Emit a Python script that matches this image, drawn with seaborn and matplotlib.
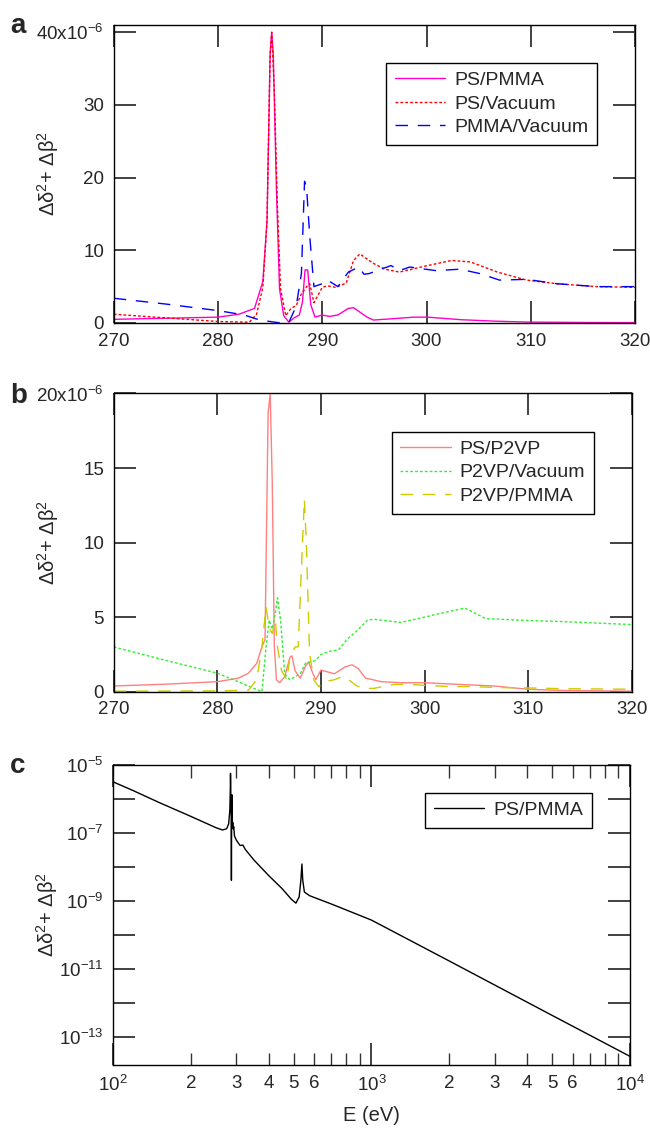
import numpy as np
import pandas as pd
import matplotlib
matplotlib.use("Agg")
import matplotlib.pyplot as plt
import seaborn as sns

# ---------------- data ----------------
# Panel a
a_ps_pmma_E = [270, 275, 280, 282, 283.5, 284.3, 284.7, 285.0, 285.15, 285.3, 285.6, 285.9, 286.3,
               286.8, 287.3, 287.8, 288.1, 288.35, 288.6, 288.9, 289.3, 290.0, 290.7, 291.5, 292.5,
               293.0, 293.7, 294.3, 294.9, 296.9, 298.8, 300.1, 303.3, 306.5, 309.7, 315, 320]
a_ps_pmma_v = [0.5, 0.65, 0.8, 1.2, 2.0, 5.7, 14, 37, 40, 37, 18.5, 4.7, 1.0,
               0.1, 0.7, 1.1, 2.9, 7.3, 7.3, 2.5, 0.8, 1.1, 0.9, 1.1, 2.0,
               2.1, 1.4, 0.8, 0.4, 0.6, 0.8, 0.8, 0.45, 0.25, 0.12, 0.07, 0.05]

a_ps_vac_E = [270, 275, 280, 283, 283.7, 284.3, 284.7, 285.0, 285.15, 285.4, 285.7, 286.0, 286.5,
              287.0, 287.5, 288.0, 288.5, 288.8, 289.2, 290.0, 290.5, 291.3, 292.3, 293.0, 293.6,
              294.9, 296.0, 297.4, 299.8, 302.4, 304.2, 306.8, 309.6, 312.5, 316.3, 320]
a_ps_vac_v = [1.2, 0.7, 0.2, 0.1, 1.2, 4.9, 14, 37, 40, 32, 16, 4.7, 1.0,
              2.0, 2.4, 4.0, 5.0, 5.4, 2.8, 4.9, 5.1, 4.9, 5.5, 8.6, 9.5,
              8.2, 7.4, 7.0, 7.8, 8.6, 8.4, 7.0, 5.9, 5.4, 5.0, 4.9]

a_pmma_vac_E = [270, 275, 280, 282.5, 284, 285, 286, 286.8, 287.5, 288.0, 288.3, 288.5, 288.8,
                289.2, 290.0, 290.5, 291.5, 292.5, 293.5, 294.0, 294.5, 296.6, 297.4, 298.4,
                300.9, 303.2, 305.1, 307.0, 309.6, 312.5, 316.3, 320]
a_pmma_vac_v = [3.4, 2.6, 1.7, 1.1, 0.4, 0.2, 0.0, 0.1, 2.3, 6.8, 19.5, 18.5, 11.9,
                5.0, 5.4, 5.9, 5.0, 7.0, 7.7, 6.7, 6.8, 7.9, 7.2, 7.7,
                7.2, 7.4, 6.8, 5.9, 6.0, 5.4, 5.0, 5.0]

# Panel b
b_ps_p2vp_E = [270, 275, 280, 282, 283, 283.8, 284.3, 284.6, 284.9, 285.1, 285.3, 285.5, 285.7,
               286.0, 286.5, 287.0, 287.2, 287.5, 288.0, 288.5, 288.8, 289.2, 289.5, 290.0,
               290.5, 291.3, 292.3, 293.0, 293.6, 294.3, 295.0, 295.8, 297.7, 300.0, 302.3,
               304.5, 306.7, 310.0, 313.2, 320]
b_ps_p2vp_v = [0.38, 0.5, 0.67, 0.9, 1.24, 1.9, 3.0, 3.5, 18.7, 20, 14, 3.0, 0.8,
               0.6, 1.0, 2.3, 2.4, 1.4, 0.9, 1.7, 2.0, 1.25, 0.8, 1.45,
               1.35, 1.2, 1.65, 1.8, 1.55, 0.9, 0.8, 0.67, 0.6, 0.6, 0.52,
               0.45, 0.38, 0.16, 0.08, 0.03]

b_p2vp_vac_E = [270, 275, 280, 282, 283.5, 284.3, 284.7, 285.0, 285.3, 285.6, 285.8, 286.1,
                286.5, 287.0, 287.5, 288.0, 288.5, 289.0, 289.5, 290.0, 290.8, 291.7, 292.5,
                293.5, 294.5, 295.1, 297.7, 300.0, 302.3, 303.9, 305.9, 310.1, 313.3, 320]
b_p2vp_vac_v = [3.0, 2.1, 1.24, 0.67, 0.22, 0.0, 3.0, 4.8, 4.2, 5.3, 6.3, 4.8,
                1.2, 0.8, 1.0, 1.2, 1.9, 2.0, 2.1, 2.5, 2.7, 2.8, 3.5,
                4.1, 4.8, 4.86, 4.64, 5.0, 5.37, 5.6, 4.9, 4.77, 4.7, 4.5]

b_p2vp_pmma_E = [270, 275, 280, 283, 283.8, 284.3, 284.7, 285.0, 285.3, 285.6, 285.8, 286.2,
                 286.7, 287.0, 287.5, 287.8, 288.2, 288.4, 288.6, 288.9, 289.3, 289.8, 290.3,
                 291.3, 292.0, 292.5, 293.3, 294.0, 295.1, 297.1, 299.4, 302.3, 304.5, 307.4,
                 310.0, 313.2, 320]
b_p2vp_pmma_v = [0.03, 0.04, 0.05, 0.1, 0.8, 3.0, 5.7, 4.3, 3.9, 4.8, 3.0, 1.4,
                 0.8, 2.3, 3.0, 3.0, 9.7, 12.9, 9.7, 2.6, 0.8, 0.33, 0.67,
                 0.8, 1.0, 0.9, 0.45, 0.22, 0.22, 0.49, 0.45, 0.34, 0.34, 0.27,
                 0.25, 0.2, 0.16]

# Panel c
c_E = [100, 120, 150, 200, 250, 265, 275, 280, 283, 284.3, 284.7, 285.2, 285.8, 286.5, 287.0,
       287.5, 288.2, 288.8, 289.5, 290.5, 291.5, 293, 295, 300, 305, 310, 318, 325, 350, 400,
       450, 490, 510, 525, 533, 538, 542, 550, 577, 700, 1000, 2000, 5000, 10000]
c_v = [3.1e-6, 1.7e-6, 7.8e-7, 3.0e-7, 1.4e-7, 1.2e-7, 1.3e-7, 1.8e-7, 4.5e-7, 2.0e-6, 5.5e-6,
       2.5e-6, 5e-7, 3e-7, 4e-9, 1.5e-7, 1.3e-6, 3e-7, 1.5e-7, 2e-7, 1.3e-7, 1.5e-7, 8e-8,
       6e-8, 5e-8, 4.2e-8, 4.3e-8, 3.2e-8, 1.6e-8, 5.5e-9, 2.3e-9, 1.1e-9, 8.5e-10, 1.3e-9,
       4e-9, 1.2e-8, 4e-9, 1.8e-9, 1.4e-9, 8e-10, 2.7e-10, 1.7e-11, 4.3e-13, 2.7e-14]

a_yticks = [0, 10, 20, 30, 40]
a_yticklabels = ["0", "10", "20", "30", "40x10$^{-6}$"]
b_yticks = [0, 5, 10, 15, 20]
b_yticklabels = ["0", "5", "10", "15", "20x10$^{-6}$"]
ab_xticks = [270, 280, 290, 300, 310, 320]
c_xminor_labels = {200: "2", 300: "3", 400: "4", 500: "5", 600: "6",
                   2000: "2", 3000: "3", 4000: "4", 5000: "5", 6000: "6"}
ylabel_text = "\u0394\u03b4$^2$+ \u0394\u03b2$^2$"

# ---------------- style ----------------
sns.set_style("ticks")
plt.rcParams["font.family"] = ["Liberation Sans", "DejaVu Sans"]
plt.rcParams["mathtext.fontset"] = "custom"
plt.rcParams["mathtext.rm"] = "Liberation Sans"
plt.rcParams["mathtext.it"] = "Liberation Sans:italic"
plt.rcParams["mathtext.bf"] = "Liberation Sans:bold"
plt.rcParams["mathtext.default"] = "regular"
plt.rcParams["font.size"] = 13.5
plt.rcParams["axes.linewidth"] = 1.0
plt.rcParams["axes.edgecolor"] = "black"

TICK_FS = 13.5
LEG_FS = 14
LAB_FS = 14.5

fig = plt.figure(figsize=(6.5, 11.32), dpi=100)
ax_a = fig.add_axes([0.175, 0.7147, 0.802, 0.2632])
ax_b = fig.add_axes([0.175, 0.3890, 0.797, 0.2634])
ax_c = fig.add_axes([0.174, 0.0592, 0.795, 0.2654])

def style_ticks(ax):
    ax.tick_params(which="major", direction="in", length=16, width=1.3, color="#333333",
                   top=True, right=True, labelsize=TICK_FS, pad=7)
    ax.tick_params(which="minor", direction="in", length=9, width=1.0, color="#333333",
                   top=True, right=True, labelsize=TICK_FS, pad=7)

def draw(ax, E, v, color, ls, label):
    df = pd.DataFrame({"E": E, "v": v})
    sns.lineplot(data=df, x="E", y="v", ax=ax, color=color, linestyle=ls, lw=1.0,
                 label=label, estimator=None, sort=False)

# Panel a
draw(ax_a, a_ps_pmma_E, a_ps_pmma_v, "#ff00cc", "-", "PS/PMMA")
draw(ax_a, a_ps_vac_E, a_ps_vac_v, "#ff0000", (0, (2, 1.5)), "PS/Vacuum")
draw(ax_a, a_pmma_vac_E, a_pmma_vac_v, "#0000ff", (0, (9, 7)), "PMMA/Vacuum")
ax_a.set_xlim(270, 320)
ax_a.set_ylim(0, 41)
ax_a.set_xticks(ab_xticks)
ax_a.set_yticks(a_yticks)
ax_a.set_yticklabels(a_yticklabels)

# Panel b
draw(ax_b, b_ps_p2vp_E, b_ps_p2vp_v, "#ff8080", "-", "PS/P2VP")
draw(ax_b, b_p2vp_vac_E, b_p2vp_vac_v, "#33ee33", (0, (2, 1.5)), "P2VP/Vacuum")
draw(ax_b, b_p2vp_pmma_E, b_p2vp_pmma_v, "#cccc00", (0, (9, 7)), "P2VP/PMMA")
ax_b.set_xlim(270, 320)
ax_b.set_ylim(0, 20)
ax_b.set_xticks(ab_xticks)
ax_b.set_yticks(b_yticks)
ax_b.set_yticklabels(b_yticklabels)

# Panel c
draw(ax_c, c_E, c_v, "#000000", "-", "PS/PMMA")
ax_c.set_xscale("log")
ax_c.set_yscale("log")
ax_c.set_xlim(100, 10000)
ax_c.set_ylim(1.5e-14, 1e-5)
ax_c.set_xticks([100, 1000, 10000])
ax_c.set_xticklabels(["10$^2$", "10$^3$", "10$^4$"])
minor_pos = [m * d for d in (100, 1000) for m in range(2, 10)]
ax_c.set_xticks(minor_pos, minor=True)
ax_c.set_xticklabels([c_xminor_labels.get(p, "") for p in minor_pos], minor=True)
yt = [10.0 ** k for k in range(-13, -4)]
ax_c.set_yticks(yt)
ax_c.set_yticklabels(["10$^{%d}$" % k if k % 2 != 0 else "" for k in range(-13, -4)])
ax_c.yaxis.set_minor_locator(matplotlib.ticker.NullLocator())
ax_c.set_xlabel("E (eV)", fontsize=LAB_FS, labelpad=8)

for ax, anchor in ((ax_a, (0.927, 0.8735)), (ax_b, (0.927, 0.872)), (ax_c, (0.9265, 0.906))):
    style_ticks(ax)
    if ax is not ax_c:
        ax.set_xlabel("")
    ax.set_ylabel(ylabel_text, fontsize=LAB_FS)
    ax.yaxis.set_label_coords(-0.102, 0.5)
    for s in ax.spines.values():
        s.set_visible(True)
        s.set_color("black")
        s.set_linewidth(1.0)
    leg = ax.legend(loc="upper right", bbox_to_anchor=anchor, borderaxespad=0,
                    frameon=True, fancybox=False, framealpha=1, edgecolor="black",
                    fontsize=LEG_FS, handlelength=2.6, labelspacing=0.3, handletextpad=0.45,
                    borderpad=0.45)
    leg.get_frame().set_linewidth(1.0)

fig.text(10 / 650, 1 - 33 / 1132, "a", fontsize=20, fontweight="bold")
fig.text(10 / 650, 1 - 403 / 1132, "b", fontsize=20, fontweight="bold")
fig.text(10 / 650, 1 - 773 / 1132, "c", fontsize=20, fontweight="bold")

fig.savefig("out.png", dpi=100)
